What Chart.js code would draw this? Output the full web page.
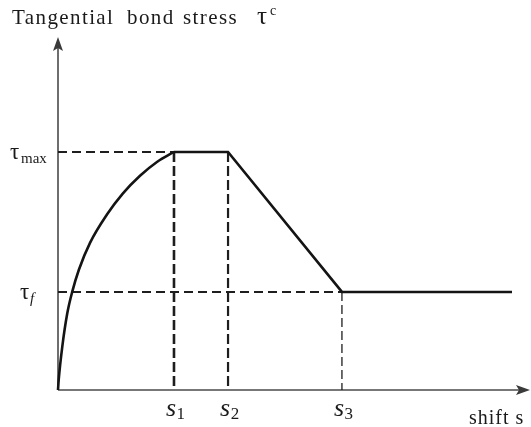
<!DOCTYPE html>
<html>
<head>
<meta charset="utf-8">
<script src="https://cdn.jsdelivr.net/npm/chart.js@4"></script>
<style>
html,body{margin:0;padding:0;background:#fff;}
#wrap{width:531px;height:427px;position:relative;}
</style>
</head>
<body>
<div id="wrap"><canvas id="c" width="531" height="427"></canvas></div>
<script>
// ---- data ----
const curveX = [0, 0.006, 0.037, 0.080, 0.123, 0.180, 0.276, 0.422, 0.560, 0.707, 0.853, 1.0];
const curveY = [0, 0.042, 0.182, 0.322, 0.413, 0.505, 0.618, 0.737, 0.826, 0.900, 0.958, 1.0];
const sValues = [1.0, 1.466, 2.448];      // s1, s2, s3
const sEnd = 3.914;                        // end of residual branch
const tauValues = [1.0, 0.412];            // tau_max, tau_f
const xTickLabels = [['s','1'], ['s','2'], ['s','3']];
const yTickLabels = [['τ','max'], ['τ','f']];
const axisMax = {x: 4.078, y: 1.483};
const xAxisTitle = 'shift s';
const yAxisTitle = ['Tangential bond stress', 'τ', 'c'];

const [s1, s2, s3] = sValues;
const [tauMax, tauF] = tauValues;

const curvePts = curveX.map((x, i) => ({x, y: curveY[i]}));
const lawPts = [{x: s1, y: tauMax}, {x: s2, y: tauMax}, {x: s3, y: tauF}, {x: sEnd, y: tauF}];

const solid = (data, extra) => Object.assign({
  data, showLine: true, pointRadius: 0, borderColor: '#141414', borderWidth: 2.6,
  fill: false, clip: false, tension: 0
}, extra || {});
const dashed = (data, w, dash) => ({
  data, showLine: true, pointRadius: 0, borderColor: '#1e1e1e', borderWidth: w,
  borderDash: dash, fill: false, clip: false, tension: 0, borderCapStyle: 'butt'
});

const SERIF = '"Liberation Serif","Times New Roman",serif';

const decor = {
  id: 'decor',
  beforeDatasetsDraw(chart) {
    const ctx = chart.ctx, xs = chart.scales.x, ys = chart.scales.y;
    const x0 = xs.getPixelForValue(0), y0 = ys.getPixelForValue(0);
    const top = chart.chartArea.top, right = chart.chartArea.right - 1;
    ctx.save();
    ctx.strokeStyle = '#4a4a4a'; ctx.fillStyle = '#3a3a3a'; ctx.lineWidth = 1.6;
    ctx.beginPath(); ctx.moveTo(x0, y0); ctx.lineTo(x0, top + 6); ctx.stroke();
    ctx.beginPath(); ctx.moveTo(x0, y0); ctx.lineTo(right - 6, y0); ctx.stroke();
    // arrowheads
    ctx.beginPath();
    ctx.moveTo(x0, top); ctx.lineTo(x0 - 5, top + 14); ctx.lineTo(x0, top + 11); ctx.lineTo(x0 + 5, top + 14); ctx.closePath(); ctx.fill();
    ctx.beginPath();
    ctx.moveTo(right, y0); ctx.lineTo(right - 14, y0 - 5); ctx.lineTo(right - 11, y0); ctx.lineTo(right - 14, y0 + 5); ctx.closePath(); ctx.fill();
    ctx.restore();
  },
  afterDraw(chart) {
    const ctx = chart.ctx, xs = chart.scales.x, ys = chart.scales.y;
    ctx.save();
    ctx.fillStyle = '#1a1a1a';
    ctx.textBaseline = 'alphabetic';
    // y tick labels
    yTickLabels.forEach((lab, i) => {
      const py = ys.getPixelForValue(tauValues[i]);
      if (i === 0) {
        ctx.font = '23px ' + SERIF; ctx.textAlign = 'left';
        ctx.fillText(lab[0], 10, py + 7);
        ctx.font = '15px ' + SERIF;
        ctx.fillText(lab[1], 21, py + 11);
      } else {
        ctx.font = '23px ' + SERIF; ctx.textAlign = 'left';
        ctx.fillText(lab[0], 20, py + 7);
        ctx.font = 'italic 15px ' + SERIF;
        ctx.fillText(lab[1], 30, py + 11);
      }
    });
    // x tick labels
    xTickLabels.forEach((lab, i) => {
      const px = xs.getPixelForValue(sValues[i]);
      ctx.font = 'italic 26px ' + SERIF; ctx.textAlign = 'left';
      const w = ctx.measureText(lab[0]).width;
      ctx.fillText(lab[0], px - 8, 416);
      ctx.font = '17px ' + SERIF;
      ctx.fillText(lab[1], px - 8 + w + 0.5, 419);
    });
    // axis titles
    ctx.font = '20px ' + SERIF; ctx.textAlign = 'left';
    try { ctx.letterSpacing = '1px'; } catch (e) {}
    ctx.fillText(xAxisTitle, 469, 424);
    ctx.font = '21px ' + SERIF;
    try { ctx.letterSpacing = '1.4px'; } catch (e) {}
    const words = yAxisTitle[0].split(' ');
    const wx = [12, 127, 183];
    words.forEach((w, i) => ctx.fillText(w, wx[i], 24));
    try { ctx.letterSpacing = '0px'; } catch (e) {}
    ctx.font = '25px ' + SERIF;
    ctx.fillText(yAxisTitle[1], 257, 24);
    ctx.font = '14px ' + SERIF;
    ctx.fillText(yAxisTitle[2], 270, 15);
    ctx.restore();
  }
};

new Chart(document.getElementById('c'), {
  type: 'scatter',
  data: {
    datasets: [
      solid(curvePts, {cubicInterpolationMode: 'monotone'}),
      solid(lawPts, {borderJoinStyle: 'miter'}),
      dashed([{x: 0, y: tauMax}, {x: s1, y: tauMax}], 2, [9, 5]),
      dashed([{x: 0, y: tauF}, {x: s3, y: tauF}], 2, [9, 5]),
      dashed([{x: s1, y: tauMax}, {x: s1, y: 0}], 2.6, [10, 4]),
      dashed([{x: s2, y: tauMax}, {x: s2, y: 0}], 2.2, [10, 4]),
      dashed([{x: s3, y: tauF}, {x: s3, y: 0}], 1.3, [9, 4])
    ]
  },
  options: {
    responsive: false,
    devicePixelRatio: 1,
    animation: false,
    layout: {padding: {left: 58, top: 37, right: 0, bottom: 37}},
    plugins: {legend: {display: false}, tooltip: {enabled: false}, title: {display: false}},
    scales: {
      x: {type: 'linear', min: 0, max: axisMax.x, display: false},
      y: {type: 'linear', min: 0, max: axisMax.y, display: false}
    }
  },
  plugins: [decor]
});
</script>
</body>
</html>
